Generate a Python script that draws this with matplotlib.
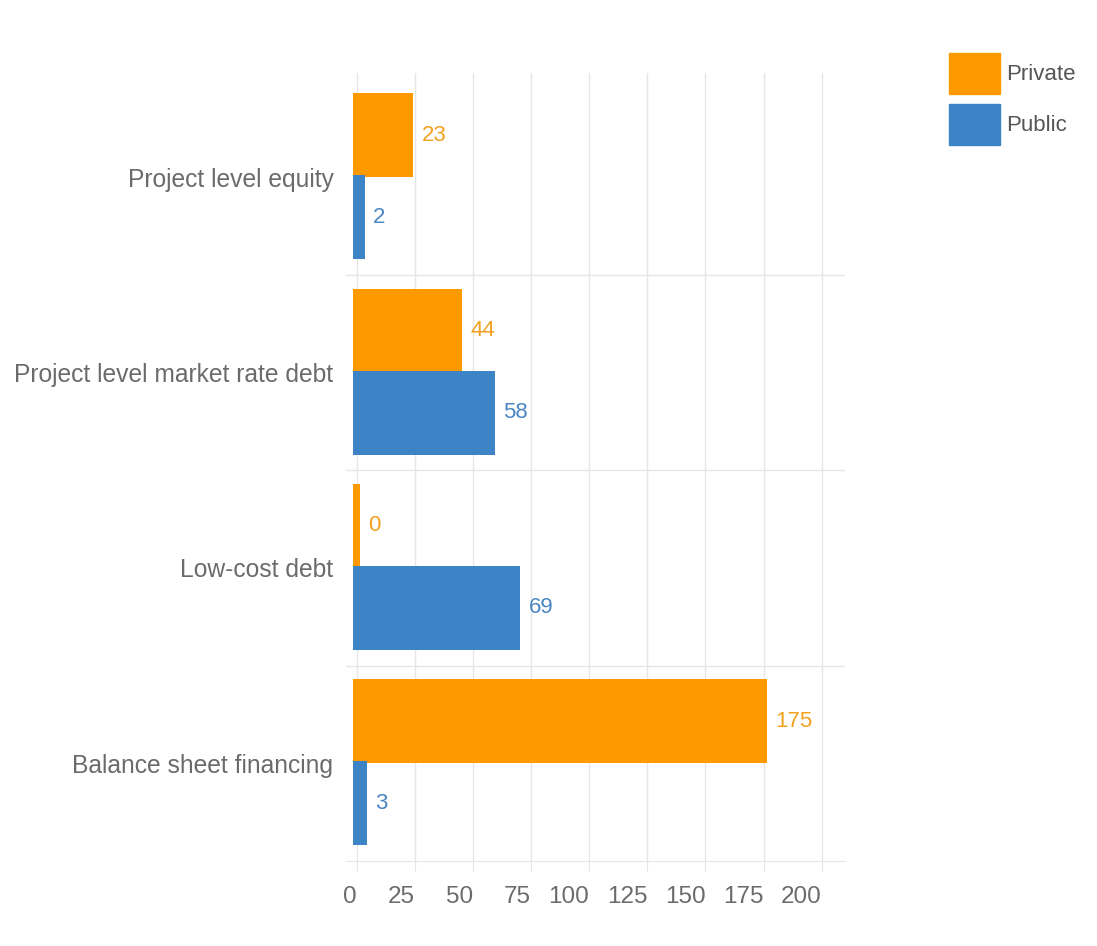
import numpy as np
import matplotlib
matplotlib.use("Agg")
import matplotlib.pyplot as plt
from matplotlib.patches import Patch

categories = ["Project level equity", "Project level market rate debt",
              "Low-cost debt", "Balance sheet financing"]
private = [23, 44, 0, 175]
public = [2, 58, 69, 3]
xticks = [0, 25, 50, 75, 100, 125, 150, 175, 200]

orange = "#FF9900"
blue = "#3D84C6"
orange_txt = "#F2A020"
blue_txt = "#4A86C2"
grey_txt = "#6B6B6B"
grid_col = "#E6E6E6"

plt.rcParams["font.family"] = ["Liberation Sans", "DejaVu Sans"]

fig = plt.figure(figsize=(10.97, 9.46), dpi=100)
ax = fig.add_axes([346 / 1097, 1 - 861 / 946, (845 - 346) / 1097, (861 - 73) / 946])

y = np.arange(len(categories))
h = 0.43
pad = 1.4  # bars get a small visible stub so zero values still show

ax.barh(y - 0.215, np.array(private) + 2 * pad, left=-pad, height=h,
        color=orange, zorder=3, label="Private")
ax.barh(y + 0.205, np.array(public) + 2 * pad, left=-pad, height=h,
        color=blue, zorder=3, label="Public")

for yi, v in zip(y, private):
    ax.text(v + pad + 3.5, yi - 0.215, str(v), color=orange_txt, fontsize=16,
            va="center", ha="left")
for yi, v in zip(y, public):
    ax.text(v + pad + 3.5, yi + 0.205, str(v), color=blue_txt, fontsize=16,
            va="center", ha="left")

ax.set_xlim(-4.6, 210)
ax.set_ylim(3.5, -0.5 - 6.5 / 195.5)

ax.set_xticks(xticks)
ax.set_xticklabels([str(t) for t in xticks], ha="right")
ax.tick_params(axis="x", length=7, color=grid_col, labelsize=17.5,
               labelcolor=grey_txt, pad=11)
ax.set_yticks(y)
ax.set_yticklabels(categories)
ax.tick_params(axis="y", length=0, labelsize=17.7, labelcolor=grey_txt, pad=9)

ax.set_yticks(np.arange(len(categories) - 1) + 0.5, minor=True)
ax.tick_params(axis="y", which="minor", length=0)
ax.grid(axis="x", color=grid_col, linewidth=1, zorder=0)
ax.grid(axis="y", which="minor", color=grid_col, linewidth=1, zorder=0)

for side in ["top", "right", "left"]:
    ax.spines[side].set_visible(False)
ax.spines["bottom"].set_color(grid_col)

handles = [Patch(color=orange, label="Private"), Patch(color=blue, label="Public")]
fig.legend(handles=handles, loc="upper left",
           bbox_to_anchor=(949 / 1097, 1 - 53 / 946), frameon=False,
           fontsize=16, handlelength=2.3, handleheight=2.48, labelspacing=0.42,
           handletextpad=0.25, borderpad=0, borderaxespad=0, labelcolor="#555555")

fig.savefig("out.png", dpi=100, facecolor="white")
